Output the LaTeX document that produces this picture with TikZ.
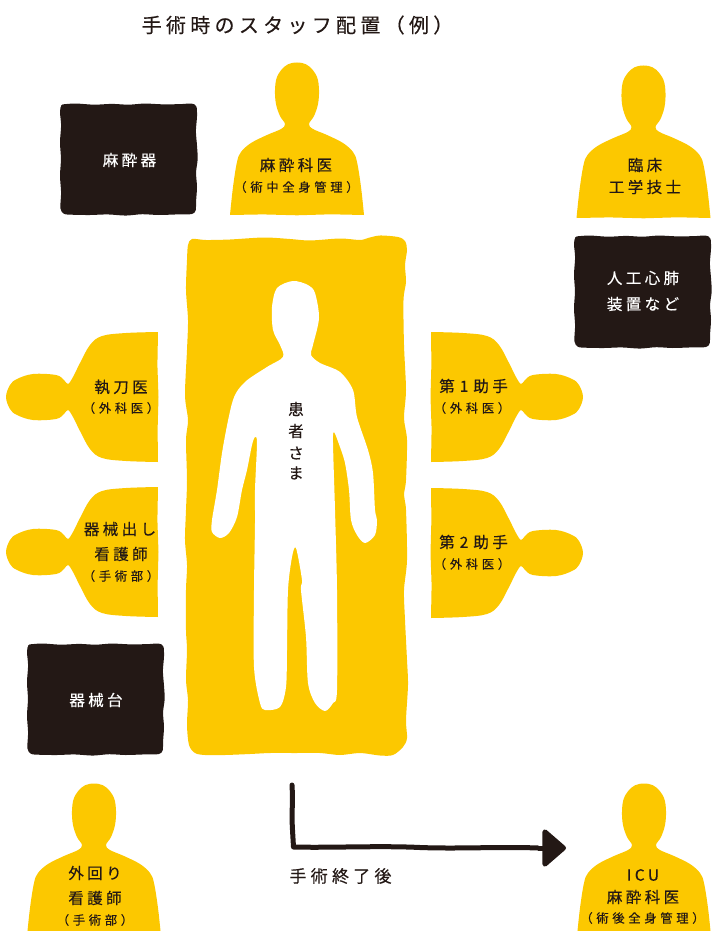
\documentclass[tikz,border=0pt]{standalone}
\usepackage{fontspec}
\usetikzlibrary{arrows.meta}
\newfontfamily\jp[LetterSpace=22,FakeBold=0.3]{Noto Sans CJK JP}
\newfontfamily\jpsub[LetterSpace=30,FakeBold=0.3]{Noto Sans CJK JP}
\newfontfamily\jptitle[LetterSpace=21.5,FakeBold=0.3]{Noto Sans CJK JP}
\newfontfamily\jpstep[LetterSpace=25,FakeBold=0.3]{Noto Sans CJK JP}
\definecolor{yel}{HTML}{FCC800}
\definecolor{ink}{HTML}{231815}
\tikzset{
  lab/.style={inner sep=0pt,anchor=center,text=ink,font=\jp\fontsize{15.5}{18}\selectfont},
  sublab/.style={inner sep=0pt,anchor=center,text=ink,font=\jpsub\fontsize{12.3}{14}\selectfont},
  whitelab/.style={lab,text=white},
  titlelab/.style={inner sep=0pt,anchor=center,text=ink,font=\jptitle\fontsize{20}{22}\selectfont},
  steplab/.style={inner sep=0pt,anchor=center,text=ink,font=\jpstep\fontsize{17}{20}\selectfont},
  blackbox/.style={fill=ink},
  yellowbed/.style={fill=yel},
  bustfill/.style={fill=yel}
}
\newcommand{\roughbox}[4]{%
  \fill[blackbox,shift={(#1,#2)},xscale=#3,yscale=#4] plot[smooth cycle,tension=0.5] coordinates{(4,1)(12,0.5)(25,1.5)(38,0.8)(50,1.5)(62,0.5)(75,1.2)(88,1)(96,0.5)(99.5,3)(100,12)(99.2,25)(100,38)(100.5,50)(99.3,62)(100,75)(99.3,88)(99,96)(96,99.2)(85,99.5)(72,100)(60,99.3)(48,100.5)(35,99.5)(22,100)(10,99.8)(3,99)(0.3,94)(0.8,80)(0,65)(0.7,50)(0,35)(0.8,20)(0,8)(1,2)};}
\newcommand{\uprightbust}[2]{%
  \fill[bustfill,shift={(#1,#2)}] plot[smooth,tension=0.6] coordinates{(-67,153)(-64,125)(-60,100)(-56,90)(-46,81)(-30,73)(-16,67)(-12,62)(-17,54)(-21,42)(-22,28)(-20,15)(-13,5)(-5,1)(5,1)(13,5)(20,15)(22,28)(21,42)(17,54)(12,62)(16,67)(30,73)(46,81)(56,90)(60,100)(64,125)(67,153)} -- (34,152.3) -- (0,153.3) -- (-34,152.4) -- cycle;}
\newcommand{\lyingbust}[3]{%
  \fill[bustfill,shift={(#1,#2)},rotate=#3] plot[smooth,tension=0.6] coordinates{(-65,152)(-64,120)(-61,96)(-52,84)(-34,74)(-20,67)(-13,62)(-17,58)(-22,50)(-23,27)(-18,11)(-12,4)(0,0)(12,4)(18,11)(23,27)(22,50)(17,58)(13,62)(20,67)(34,74)(52,84)(61,96)(64,120)(65,152)} -- (32,151.4) -- (0,152.5) -- (-33,151.6) -- cycle;}
\begin{document}
\begin{tikzpicture}[x=1pt,y=-1pt]
\useasboundingbox (0,0) rectangle (712,931);
\clip (0,0) rectangle (712,931);
% bed and patient
\fill[yellowbed] plot[smooth cycle,tension=0.5] coordinates{(192,239)(206,240)(230,239.5)(264,237.5)(290,239)(310,240.5)(340,238.5)(360,240)(368,238)(380,235.5)(398,237)(405,241)(407,250)(405,265)(406,282)(403.5,300)(404,345)(406,390)(404,418)(407,440)(406,480)(404,495)(406,510)(407,560)(404,590)(405,620)(407,660)(408,685)(406,720)(407,738)(403,747)(393,755)(380,755.5)(360,753)(340,755)(320,753)(295,753)(270,753)(250,754)(225,755)(205,755)(195,753)(189,745)(187,725)(188,700)(186,680)(187,650)(186,630)(186,590)(187,565)(185,540)(186,510)(187,480)(186,440)(188,420)(185,395)(187,350)(188,320)(186,290)(187,260)(188,245)};
\fill[white] plot[smooth cycle,tension=0.5] coordinates{(293,281)(308,285)(315,293)(319,318)(313,345)(311,355)(320,363)(340,372)(353,390)(357,417)(368,450)(373,473)(375,510)(377,520)(375,535)(365,543)(357,535)(351,520)(349,490)(345,463)(340,447)(334,432)(333,443)(335,510)(337,590)(337,690)(333,703)(325,711)(315,703)(308,683)(306,637)(301,590)(302,580)(296,548)(292,557)(288,590)(287,650)(286,687)(280,707)(265,710)(260,703)(254,667)(254,590)(255,523)(255,490)(257,443)(255,437)(252,445)(247,470)(242,490)(237,517)(229,533)(220,538)(212,532)(212,520)(217,490)(223,447)(233,400)(245,382)(267,367)(283,357)(280,345)(273,330)(272,307)(277,288)};
% black boxes
\roughbox{60}{103}{1.37}{1.12}
\roughbox{574}{235}{1.37}{1.13}
\roughbox{27}{643}{1.37}{1.12}
% people
\uprightbust{297}{62}
\uprightbust{643.5}{65}
\uprightbust{94}{783}
\uprightbust{644}{783}
\lyingbust{6}{397}{90}
\lyingbust{6}{552}{90}
\lyingbust{583}{397}{-90}
\lyingbust{583}{553}{-90}
% title
\node[titlelab] (title) at (297.5,25) {手術時のスタッフ配置（例）};
% labels
\node[whitelab] (masuiki) at (129.5,160) {麻酔器};
\node[lab] (masui1) at (296,165) {麻酔科医};
\node[sublab] (masui2) at (296.5,187) {（術中全身管理）};
\node[lab] (rinsho1) at (645,165) {臨床};
\node[lab] (rinsho2) at (645,187) {工学技士};
\node[whitelab] (jinko1) at (643,278) {人工心肺};
\node[whitelab] (jinko2) at (643,304) {装置など};
\node[lab] (shitto1) at (121,387) {執刀医};
\node[sublab] (shitto2) at (121,408) {（外科医）};
\node[lab] (kikai1) at (120,529) {器械出し};
\node[lab] (kikai2) at (121,554) {看護師};
\node[sublab] (kikai3) at (121,576) {（手術部）};
\node[lab] (dai1a) at (473.5,386) {第\hspace{5pt}1\hspace{5pt}助手};
\node[sublab] (dai1b) at (472,408) {（外科医）};
\node[lab] (dai2a) at (473.5,542) {第\hspace{5pt}2\hspace{5pt}助手};
\node[sublab] (dai2b) at (472,564) {（外科医）};
\node[whitelab] (kikaidai) at (96,700) {器械台};
\node[lab] (kan) at (296,409) {患};
\node[lab] (ja) at (296,431) {者};
\node[lab] (sa) at (296,453) {さ};
\node[lab] (ma) at (296,473) {ま};
\node[lab] (soto1) at (95,873) {外回り};
\node[lab] (soto2) at (95,898) {看護師};
\node[sublab] (soto3) at (95,920) {（手術部）};
\node[steplab] (after) at (340.5,876) {手術終了後};
\node[lab] (icu1) at (643,875) {ICU};
\node[lab] (icu2) at (643,897) {麻酔科医};
\node[sublab] (icu3) at (642.5,918) {（術後全身管理）};
% arrow
\coordinate (astart) at (292,785);
\coordinate (acorner) at (293.5,847);
\coordinate (astub) at (538,848);
\coordinate (aend) at (566,848);
\draw[ink,line width=5pt,line cap=round,line join=round] (astart) .. controls (293,800) and (291.5,815) .. (292.5,830) -- (acorner) .. controls (330,848) and (380,845.5) .. (420,847.5) .. controls (460,849) and (500,846.5) .. (astub);
\draw[ink,line width=5pt,-{Triangle[length=25pt,width=42pt,round]}] (astub) -- (aend);
\end{tikzpicture}
\end{document}
